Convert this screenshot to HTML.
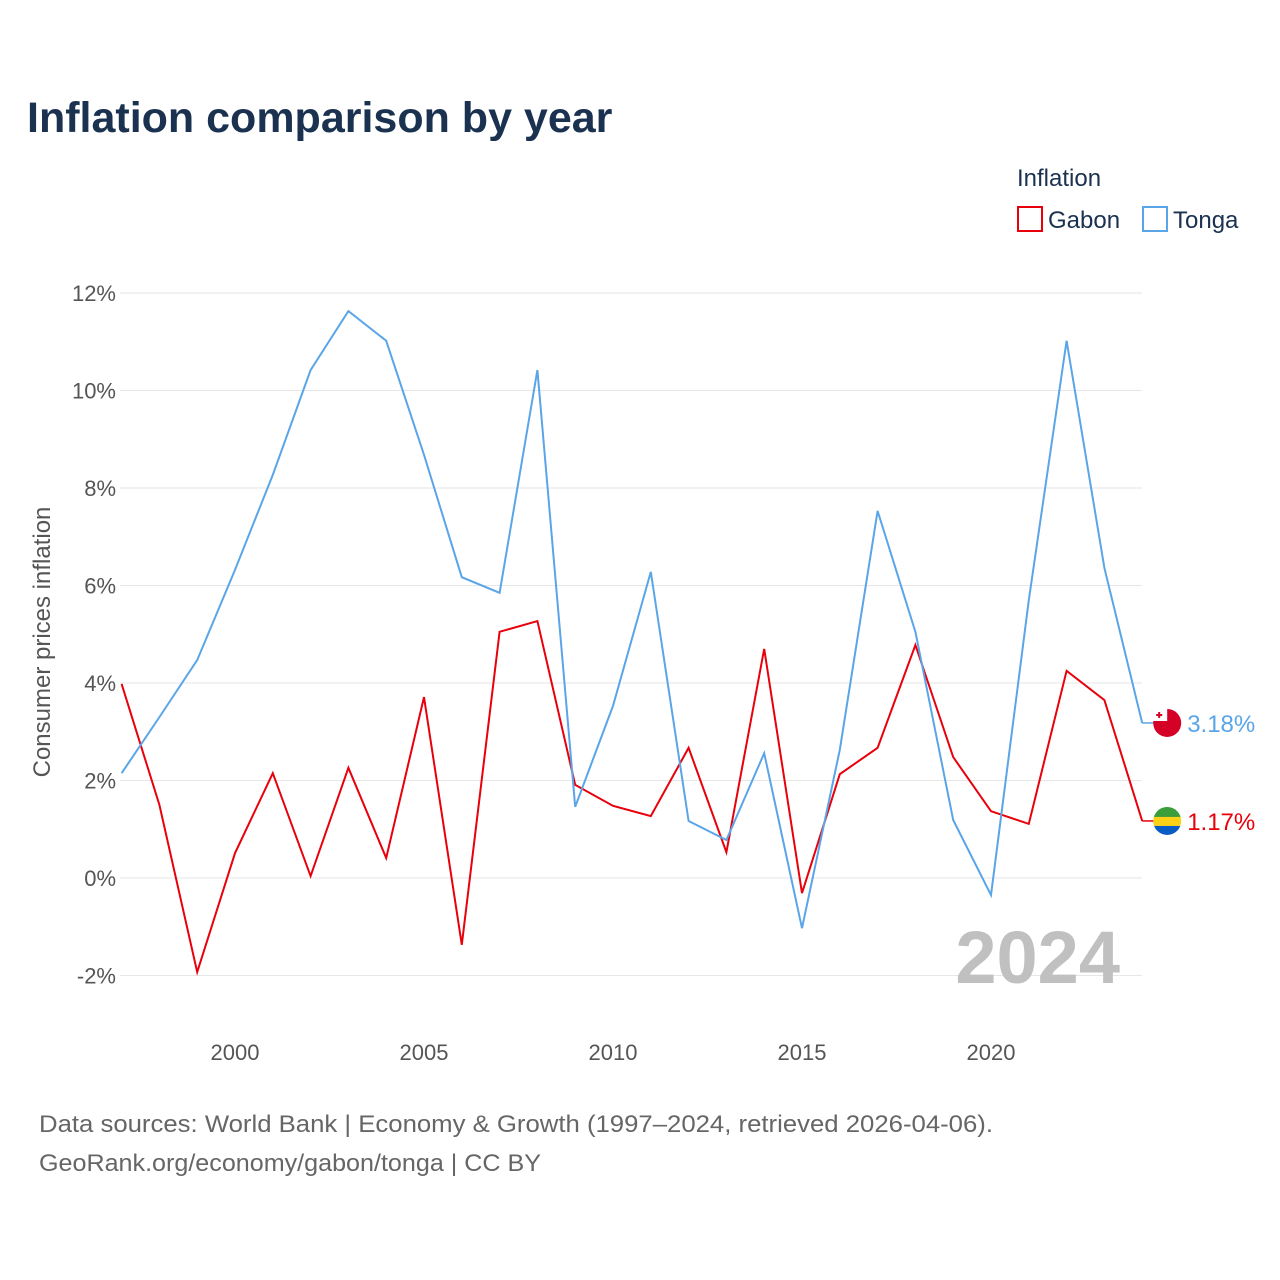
<!DOCTYPE html>
<html><head><meta charset="utf-8"><style>
body{margin:0;background:#fff;font-family:"Liberation Sans",sans-serif}
svg{display:block}
</style></head><body>
<svg id="chart" width="1280" height="1280" viewBox="0 0 1280 1280">
<text x="27" y="132" font-size="43" font-weight="bold" fill="#1a3150">Inflation comparison by year</text>
<text x="1017" y="186" font-size="24" fill="#1a3150">Inflation</text>
<g><rect x="1018" y="207" width="24" height="24" fill="none" stroke="#e8000b" stroke-width="2"/><text x="1048" y="228" font-size="24" fill="#1a3150">Gabon</text></g>
<g><rect x="1143" y="207" width="24" height="24" fill="none" stroke="#5aa5e8" stroke-width="2"/><text x="1173" y="228" font-size="24" fill="#1a3150">Tonga</text></g>
<g id="grid"></g><g id="xt"></g><g id="lines"></g>
<text x="1120" y="983" text-anchor="end" font-size="74" font-weight="bold" fill="#c0c0c0">2024</text>
<text transform="translate(50,642) rotate(-90)" text-anchor="middle" font-size="24" fill="#555">Consumer prices inflation</text>
<text x="39" y="1132" font-size="24" fill="#666" textLength="954" lengthAdjust="spacingAndGlyphs">Data sources: World Bank | Economy &amp; Growth (1997–2024, retrieved 2026-04-06).</text>
<text x="39" y="1171" font-size="24" fill="#666" textLength="502" lengthAdjust="spacingAndGlyphs">GeoRank.org/economy/gabon/tonga | CC BY</text>
</svg>
<script>
const years=[1997,1998,1999,2000,2001,2002,2003,2004,2005,2006,2007,2008,2009,2010,2011,2012,2013,2014,2015,2016,2017,2018,2019,2020,2021,2022,2023,2024];
const gabon=[3.98,1.50,-1.93,0.51,2.15,0.04,2.26,0.41,3.71,-1.37,5.05,5.27,1.91,1.48,1.27,2.67,0.53,4.70,-0.31,2.13,2.67,4.78,2.48,1.37,1.11,4.25,3.65,1.17];
const tonga=[2.15,3.30,4.47,6.32,8.27,10.42,11.63,11.02,8.68,6.17,5.85,10.42,1.46,3.53,6.28,1.17,0.78,2.56,-1.03,2.63,7.53,5.05,1.19,-0.35,5.70,11.02,6.36,3.18];
const yTicks=[-2,0,2,4,6,8,10,12];
const xTicks=[2000,2005,2010,2015,2020];
const NS="http://www.w3.org/2000/svg";
const x=v=>235+(v-2000)*37.8;
const y=v=>878-v*48.75;
function mk(t,a,p){const e=document.createElementNS(NS,t);for(const k in a)e.setAttribute(k,a[k]);p.appendChild(e);return e;}
const grid=document.getElementById('grid');
yTicks.forEach(v=>{
 const l=mk('line',{x1:120,x2:1142,y1:y(v),y2:y(v),stroke:'#e6e6e6','stroke-width':1},grid);
 
 
 const t=mk('text',{x:116,y:y(v)+8,'text-anchor':'end','font-size':22,fill:'#555'},grid);
 t.textContent=v+'%';
 
 
});
const xt=document.getElementById('xt');
xTicks.forEach(v=>{
 const t=mk('text',{x:x(v),y:1060,'text-anchor':'middle','font-size':22,fill:'#555'},xt);
 t.textContent=v;
 
 
});
const lines=document.getElementById('lines');
function series(d,col,name){
 const pts=d.map((v,i)=>x(years[i])+','+y(v)).join(' ');
 const p=mk('polyline',{points:pts,fill:'none',stroke:col,'stroke-width':2,'stroke-linejoin':'miter'},lines);
 
 
 const last=d[d.length-1],lx=x(years[years.length-1]),ly=y(last);
 mk('line',{x1:lx,x2:lx+12,y1:ly,y2:ly,stroke:col,'stroke-width':1.5},lines);
 const t=mk('text',{x:lx+45,y:ly+9,'font-size':24,fill:col},lines);
 t.textContent=last.toFixed(2)+'%';
 
 
 return [lx+25,ly];
}
const [gx,gy]=series(gabon,'#e8000b','gabon');
const [tx,ty]=series(tonga,'#5aa5e8','tonga');
const fg=mk('g',{},lines);


const cp=mk('clipPath',{id:'cg'},fg);
mk('circle',{cx:gx,cy:gy,r:14},cp);
const gg=mk('g',{'clip-path':'url(#cg)'},fg);
mk('rect',{x:gx-14,y:gy-14,width:28,height:10,fill:'#3a9e3a'},gg);
mk('rect',{x:gx-14,y:gy-4,width:28,height:9,fill:'#fcd116'},gg);
mk('rect',{x:gx-14,y:gy+5,width:28,height:10,fill:'#0a5bc4'},gg);
const tf=mk('g',{},lines);


mk('circle',{cx:tx,cy:ty,r:14,fill:'#d40026'},tf);
mk('rect',{x:tx-14,y:ty-14,width:14,height:12,fill:'#fff'},tf);
mk('path',{d:`M${tx-8} ${ty-11}v6M${tx-11} ${ty-8}h6`,stroke:'#d40026','stroke-width':2},tf);
</script>
</body></html>
